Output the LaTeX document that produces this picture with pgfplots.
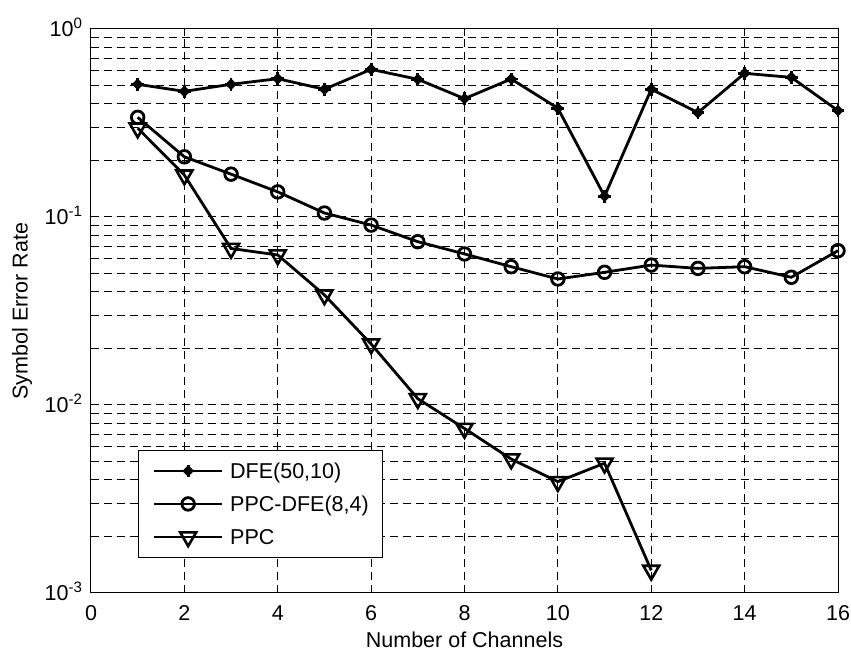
\documentclass[border=0pt]{standalone}
\usepackage{fontspec}
\setmainfont{Liberation Sans}
\usepackage{pgfplots}
\pgfplotsset{compat=1.18}
\newcommand\fsz{\fontsize{10.75pt}{12.5pt}\selectfont}
% plus sign with a small filled diamond, like the DFE marker
\pgfdeclareplotmark{dfe}{%
  \pgfpathmoveto{\pgfqpoint{0pt}{\pgfplotmarksize}}%
  \pgfpathlineto{\pgfqpoint{0pt}{-\pgfplotmarksize}}%
  \pgfpathmoveto{\pgfqpoint{\pgfplotmarksize}{0pt}}%
  \pgfpathlineto{\pgfqpoint{-\pgfplotmarksize}{0pt}}%
  \pgfusepathqstroke
  \pgfpathmoveto{\pgfqpoint{0pt}{0.6\pgfplotmarksize}}%
  \pgfpathlineto{\pgfqpoint{0.6\pgfplotmarksize}{0pt}}%
  \pgfpathlineto{\pgfqpoint{0pt}{-0.6\pgfplotmarksize}}%
  \pgfpathlineto{\pgfqpoint{-0.6\pgfplotmarksize}{0pt}}%
  \pgfpathclose
  \pgfusepathqfillstroke
}
\begin{document}
\begin{tikzpicture}
\begin{axis}[
  scale only axis, width=373.5pt, height=282pt,
  xmin=0, xmax=16, ymin=1e-3, ymax=1, ymode=log,
  xtick={0,2,...,16}, xticklabels={0,2,4,6,8,10,12,14,16},
  ytick={1e-3,1e-2,1e-1,1},
  yticklabels={10\textsuperscript{-3},10\textsuperscript{-2},10\textsuperscript{-1},10\textsuperscript{0}},
  minor ytick={2e-3,3e-3,4e-3,5e-3,6e-3,7e-3,8e-3,9e-3,
               2e-2,3e-2,4e-2,5e-2,6e-2,7e-2,8e-2,9e-2,
               2e-1,3e-1,4e-1,5e-1,6e-1,7e-1,8e-1,9e-1},
  tick align=inside, major tick length=3.7pt, minor tick length=3.7pt,
  every tick/.style={black, line width=0.5pt},
  axis line style={line width=0.5pt},
  xmajorgrids, ymajorgrids, yminorgrids,
  major grid style={black, line width=0.5pt, dash pattern=on 4pt off 2.5pt},
  minor grid style={black, line width=0.5pt, dash pattern=on 4pt off 2.5pt},
  xticklabel style={font=\fsz, anchor=north, inner sep=0pt, yshift=-6pt},
  yticklabel style={font=\fsz, anchor=base east, inner sep=0pt, xshift=-3.8pt, yshift=-3.85pt},
  xlabel={Number of Channels}, ylabel={Symbol Error Rate},
  every axis x label/.style={at={(axis description cs:0.5,0)}, anchor=base, yshift=-27.5pt, font=\fsz},
  every axis y label/.style={at={(axis description cs:0,0.5)}, rotate=90, anchor=center, yshift=34.5pt, font=\fsz},
  legend cell align=left,
  legend style={at={(0.0633,0.0615)}, anchor=south west, draw=black, line width=0.5pt,
    fill=white, font=\fsz, inner xsep=7pt, inner ysep=2.2pt, row sep=0pt,
    nodes={inner sep=0pt, text height=7.7pt, text depth=0pt, minimum height=16.5pt},
    /tikz/every odd column/.append style={column sep=3.3pt}},
  legend image code/.code={%
    \draw[mark repeat=2, mark phase=2, #1] plot coordinates {(0pt,0pt) (17pt,0pt) (34pt,0pt)};},
]
\addplot[black, line width=1.4pt, mark=dfe, mark size=3.2pt,
  mark options={line width=1.4pt, fill=black}] coordinates {
  (1,0.508) (2,0.466) (3,0.508) (4,0.544) (5,0.478) (6,0.61) (7,0.54) (8,0.426)
  (9,0.542) (10,0.379) (11,0.129) (12,0.478) (13,0.359) (14,0.581) (15,0.553) (16,0.368)};
\addlegendentry{DFE(50,10)}
\addplot[black, line width=1.4pt, mark=o, mark size=3.15pt,
  mark options={line width=1.4pt}] coordinates {
  (1,0.339) (2,0.209) (3,0.169) (4,0.136) (5,0.105) (6,0.0906) (7,0.0739) (8,0.0636)
  (9,0.0544) (10,0.0468) (11,0.0508) (12,0.0555) (13,0.0533) (14,0.0544) (15,0.0478) (16,0.0662)};
\addlegendentry{PPC-DFE(8,4)}
\addplot[black, line width=1.4pt, mark=triangle, mark size=4.6pt,
  mark options={line width=1.3pt, rotate=180, fill=white}] coordinates {
  (1,0.297) (2,0.167) (3,0.068) (4,0.0628) (5,0.0385) (6,0.0211) (7,0.0108) (8,0.0075)
  (9,0.00516) (10,0.00391) (11,0.0049) (12,0.00132)};
\addlegendentry{PPC}
\end{axis}
\pgfresetboundingbox
\path[use as bounding box] ([shift={(-45.5pt,-31pt)}]current axis.south west)
  rectangle ([shift={(6.5pt,14.5pt)}]current axis.north east);
\end{tikzpicture}
\end{document}
